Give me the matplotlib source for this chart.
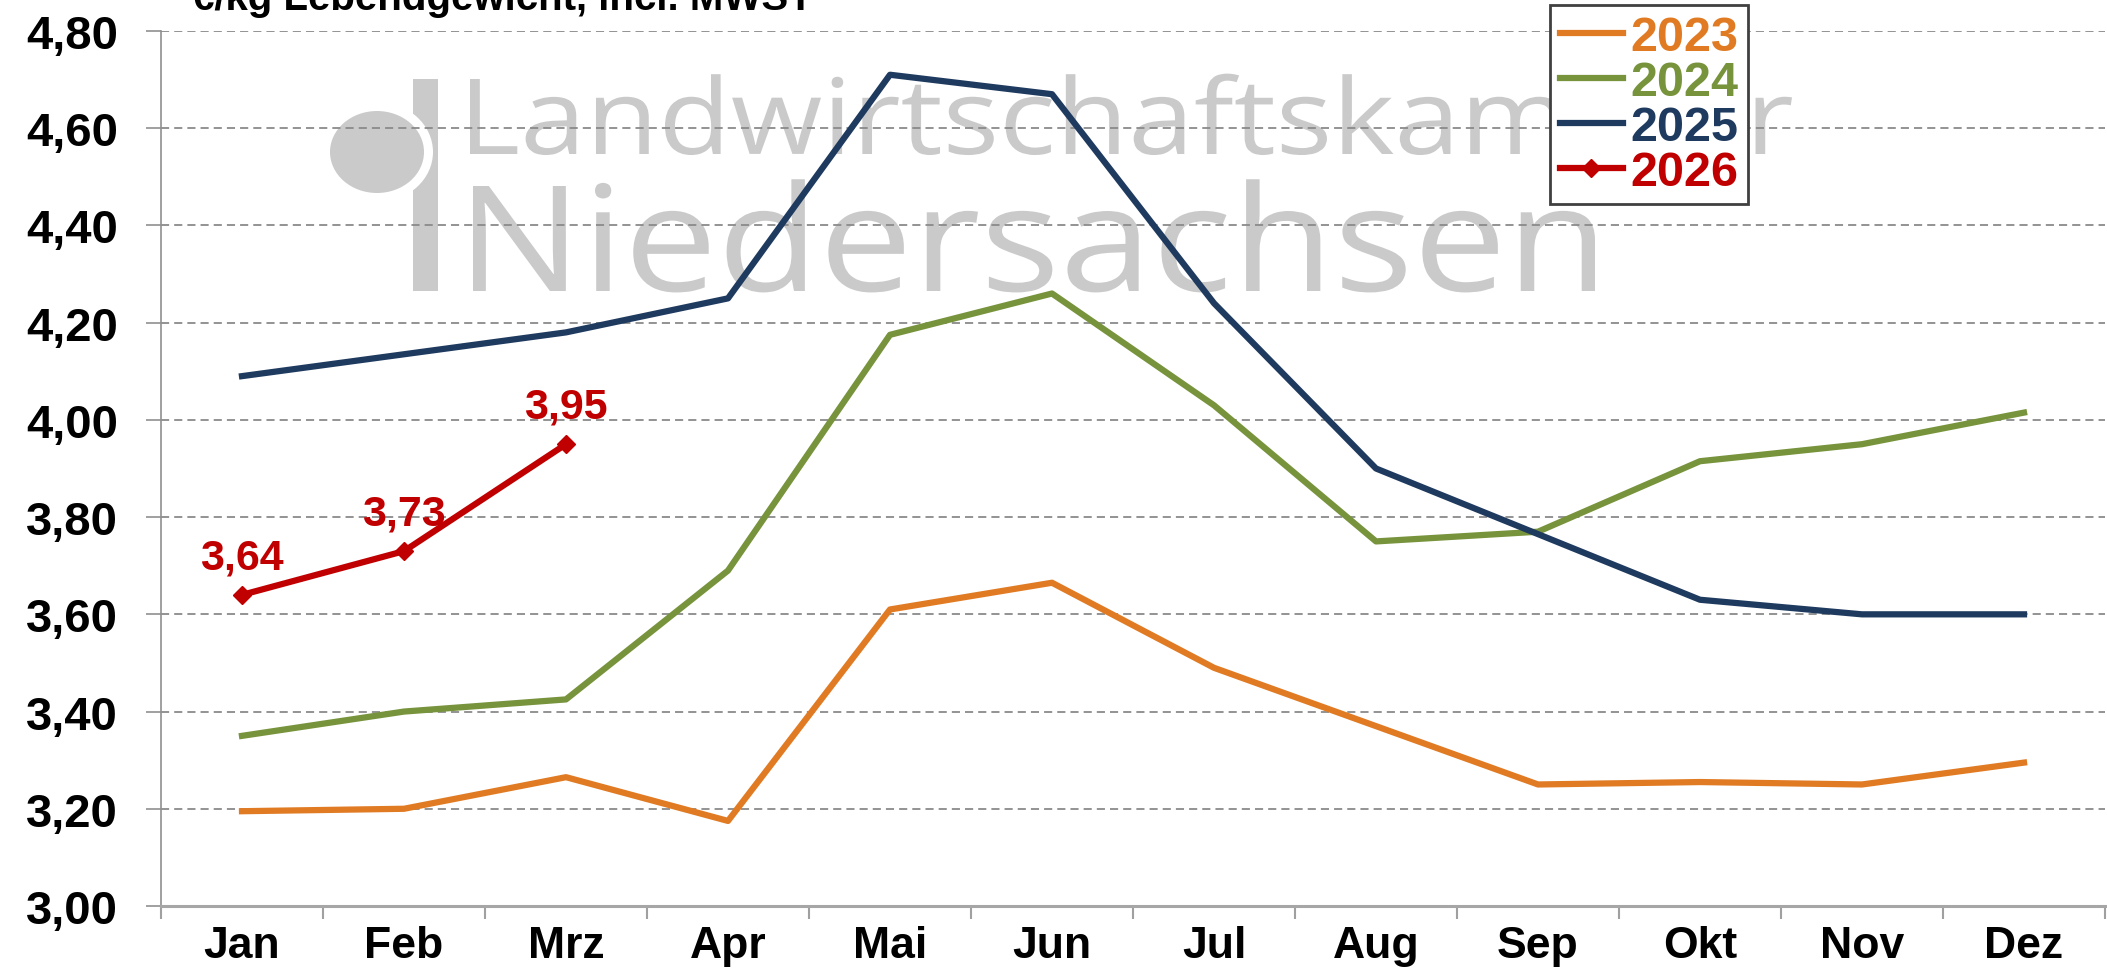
import matplotlib.pyplot as plt
import matplotlib.patches as patches
import matplotlib.transforms as mtransforms
from matplotlib.textpath import TextPath
from matplotlib.font_manager import FontProperties
import numpy as np

# monthly prices, EUR/kg live weight
months = ['Jan', 'Feb', 'Mrz', 'Apr', 'Mai', 'Jun', 'Jul', 'Aug', 'Sep', 'Okt', 'Nov', 'Dez']
p2023 = [3.195, 3.20, 3.265, 3.175, 3.61, 3.665, 3.49, 3.37, 3.25, 3.255, 3.25, 3.295]
p2024 = [3.35, 3.40, 3.425, 3.69, 4.175, 4.26, 4.03, 3.75, 3.77, 3.915, 3.95, 4.015]
p2025 = [4.09, 4.135, 4.18, 4.25, 4.71, 4.67, 4.24, 3.90, 3.765, 3.63, 3.60, 3.60]
p2026 = [3.64, 3.73, 3.95]
labels2026 = ['3,64', '3,73', '3,95']
yticks = [3.0, 3.2, 3.4, 3.6, 3.8, 4.0, 4.2, 4.4, 4.6, 4.8]

W, H = 2107, 970
plt.rc('font', family=['Liberation Sans', 'DejaVu Sans'])

fig = plt.figure(figsize=(W / 100, H / 100), dpi=100)
ax = fig.add_axes([161 / W, 1 - 907 / H, 1944 / W, 875 / H])
ax.set_facecolor('none')

# watermark, placed in figure pixels (from top-left)
wm = '#cacaca'

def watermark(s, x0, x1, ybase, caph, weight):
    prop = FontProperties(family=['Open Sans', 'DejaVu Sans'], weight=weight)
    tp = TextPath((0, 0), s, size=100, prop=prop)
    cap = TextPath((0, 0), s[0], size=100, prop=prop).get_extents().height
    ext = tp.get_extents()
    tr = (mtransforms.Affine2D().translate(-ext.x0, 0)
          .scale((x1 - x0) / ext.width / W, caph / cap / H)
          .translate(x0 / W, 1 - ybase / H) + fig.transFigure)
    fig.add_artist(patches.PathPatch(tp, color=wm, lw=0, transform=tr, zorder=-2))

watermark('Landwirtschaftskammer', 470, 1792, 155, 75, 'normal')
watermark('Niedersachsen', 473, 1595, 292, 105, 'normal')
fig.add_artist(patches.Rectangle((413 / W, 1 - 292 / H), 25 / W, 212 / H, color=wm, lw=0,
                                 transform=fig.transFigure, zorder=-2))
fig.add_artist(patches.Ellipse((377 / W, 1 - 153 / H), 112 / W, 100 / H, color='white', lw=0,
                               transform=fig.transFigure, zorder=-1.5))
fig.add_artist(patches.Ellipse((377 / W, 1 - 153 / H), 94 / W, 82 / H, color=wm, lw=0,
                               transform=fig.transFigure, zorder=-1))

x = np.arange(len(months))
ax.plot(x, p2023, color='#e07b24', lw=4.5, label='2023', zorder=3)
ax.plot(x, p2024, color='#77933c', lw=4.5, label='2024', zorder=3)
ax.plot(x, p2025, color='#1f3a5f', lw=4.5, label='2025', zorder=3)
ax.plot(x[:len(p2026)], p2026, color='#c00000', lw=4.5, marker='D', ms=9, label='2026', zorder=4)

for i, (v, t) in enumerate(zip(p2026, labels2026)):
    ax.annotate(t, (i, v), xytext=(0, 19), textcoords='offset points', ha='center', va='baseline',
                fontsize=31, fontweight='bold', color='#c00000', zorder=5)

ax.set_xlim(-0.5, 11.5)
ax.set_ylim(3.0, 4.8)
ax.set_xticks(x)
ax.set_xticklabels(months, fontsize=32, fontweight='bold')
ax.set_xticks(np.arange(-0.5, 12, 1), minor=True)
ax.tick_params(axis='x', which='major', length=0, pad=14)
ax.tick_params(axis='x', which='minor', length=9, color='#a0a0a0', width=1.5)
ax.set_yticks(yticks)
ax.set_yticklabels([f'{v:.2f}'.replace('.', ',') for v in yticks], fontsize=34, fontweight='bold')
ax.tick_params(axis='y', length=11, color='#909090', width=1.2, pad=20)
ax.grid(axis='y', linestyle=(0, (4.5, 2.8)), color='#8a8a8a', lw=1.3, zorder=1)

for s in ['top', 'right']:
    ax.spines[s].set_visible(False)
ax.spines['left'].set_color('#909090')
ax.spines['left'].set_linewidth(1.2)
ax.spines['bottom'].set_color('#a6a6a6')
ax.spines['bottom'].set_linewidth(2.2)

leg = ax.legend(loc='upper left', bbox_to_anchor=(1550 / W, 1 - 6 / H), bbox_transform=fig.transFigure,
                handlelength=1.3, handletextpad=0.15, labelspacing=0.0, borderpad=0.2,
                borderaxespad=0, frameon=True, fancybox=False, framealpha=1,
                prop={'weight': 'bold', 'size': 35, 'family': 'Liberation Sans'})
leg.get_frame().set_edgecolor('#404040')
leg.get_frame().set_linewidth(2)
for txt, ln in zip(leg.get_texts(), leg.get_lines()):
    txt.set_color(ln.get_color())

fig.text(192 / W, 1 - 10 / H, '€/kg Lebendgewicht, incl. MWST', fontsize=29, fontweight='bold',
         va='baseline', ha='left')

plt.savefig('out.png', dpi=100)
